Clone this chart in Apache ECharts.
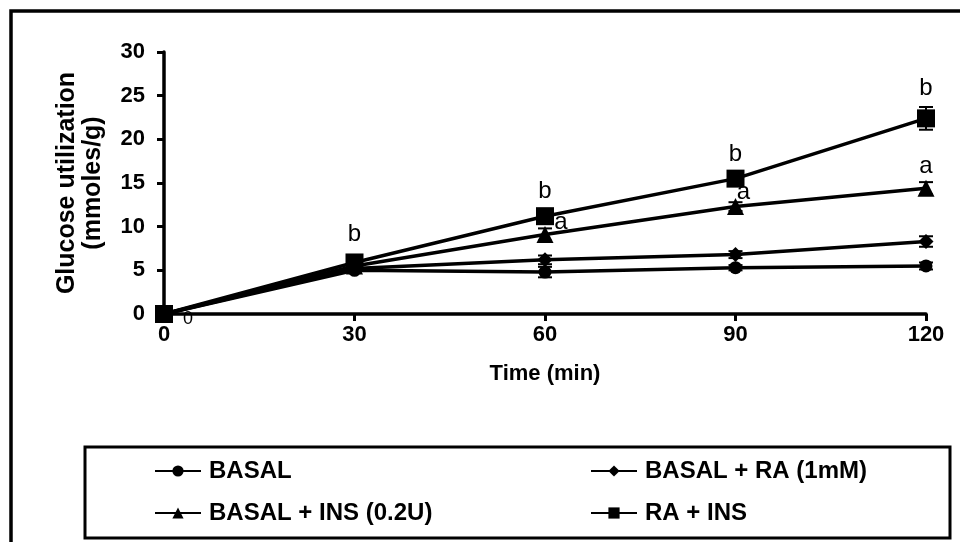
<!DOCTYPE html>
<html>
<head>
<meta charset="utf-8">
<script src="https://cdn.jsdelivr.net/npm/echarts@6/dist/echarts.min.js"></script>
<style>
  html, body { margin: 0; padding: 0; background: #fff; }
  #chart { width: 960px; height: 542px; }
</style>
</head>
<body>
<div id="chart"></div>
<script>
const times = [0, 30, 60, 90, 120]
const yTicks = [0, 5, 10, 15, 20, 25, 30]

const basal = [0, 5.0, 4.8, 5.3, 5.5]
const basalErr = [0, 0.3, 0.6, 0.3, 0.4]
const basalRa = [0, 5.2, 6.2, 6.8, 8.3]
const basalRaErr = [0, 0.3, 0.5, 0.4, 0.6]
const basalIns = [0, 5.5, 9.1, 12.3, 14.4]
const basalInsErr = [0, 0.3, 0.7, 0.5, 0.7]
const raIns = [0, 5.9, 11.2, 15.5, 22.4]
const raInsErr = [0, 0.3, 0.4, 0.5, 1.3]

const insLetters = ['', '', 'a', 'a', 'a']
const raInsLetters = ['', 'b', 'b', 'b', 'b']
const basalLetters = ['0', '', '', '', '']

const names = ['BASAL', 'BASAL + RA (1mM)', 'BASAL + INS (0.2U)', 'RA + INS']
const FONT = '"Liberation Sans", Arial, sans-serif'

const chart = echarts.init(document.getElementById('chart'))

// label placement per point (offsets from marker centre)
const insOffsets = [[0, 0], [0, 0], [16, -12], [8, -14], [0, -22]]
const raInsOffsets = [[0, 0], [0, -28], [0, -25], [0, -24], [0, -30]]

function points(vals, letters, offsets, fontSize) {
  return vals.map((v, i) => ({
    value: [times[i], v],
    label: letters[i]
      ? {
          show: true,
          formatter: letters[i],
          position: 'inside',
          offset: offsets[i],
          color: '#000',
          fontFamily: FONT,
          fontSize: fontSize,
        }
      : { show: false },
  }))
}

function lineSeries(name, data, symbol, size) {
  return {
    name,
    type: 'line',
    data,
    symbol,
    symbolSize: size,
    showSymbol: true,
    color: '#000',
    lineStyle: { color: '#000', width: 3.5 },
    itemStyle: { color: '#000' },
    emphasis: { disabled: true },
    z: 3,
  }
}

function errorSeries(vals, errs) {
  return {
    type: 'custom',
    silent: true,
    z: 2,
    data: vals.map((v, i) => [times[i], v, errs[i]]),
    renderItem(params, api) {
      const x = api.value(0)
      const y = api.value(1)
      const e = api.value(2)
      if (!e) return null
      const hi = api.coord([x, y + e])
      const lo = api.coord([x, y - e])
      const w = 7
      const style = { stroke: '#000', lineWidth: 2 }
      return {
        type: 'group',
        children: [
          { type: 'line', shape: { x1: hi[0], y1: hi[1], x2: lo[0], y2: lo[1] }, style },
          { type: 'line', shape: { x1: hi[0] - w, y1: hi[1], x2: hi[0] + w, y2: hi[1] }, style },
          { type: 'line', shape: { x1: lo[0] - w, y1: lo[1], x2: lo[0] + w, y2: lo[1] }, style },
        ],
      }
    },
  }
}

const legendText = { color: '#000', fontFamily: FONT, fontSize: 24, fontWeight: 'bold', lineHeight: 24, padding: [0, 0, 0, 3] }
const axisFont = { color: '#000', fontFamily: FONT, fontSize: 22, fontWeight: 'bold' }

const legendBase = {
  orient: 'vertical',
  top: 459,
  padding: 0,
  itemWidth: 46,
  itemHeight: 14,
  itemGap: 18,
  textStyle: legendText,
  selectedMode: false,
}

chart.setOption({
  animation: false,
  backgroundColor: '#fff',
  graphic: [
    { type: 'rect', shape: { x: 11, y: 11, width: 1000, height: 600 }, style: { fill: 'none', stroke: '#000', lineWidth: 3.5 }, z: 0 },
    { type: 'rect', shape: { x: 85, y: 447, width: 865, height: 91 }, style: { fill: 'none', stroke: '#000', lineWidth: 3 }, z: 0 },
  ],
  grid: { left: 164, right: 34, top: 52, bottom: 228 },
  legend: [
    Object.assign({ data: [names[0], names[2]], left: 154 }, legendBase),
    Object.assign({ data: [names[1], names[3]], left: 590 }, legendBase),
  ],
  xAxis: {
    type: 'value',
    min: times[0],
    max: times[times.length - 1],
    interval: 30,
    name: 'Time (min)',
    nameLocation: 'middle',
    nameGap: 49,
    nameTextStyle: axisFont,
    axisLine: { lineStyle: { color: '#000', width: 3.5 } },
    axisTick: { show: true, length: 7, lineStyle: { color: '#000', width: 3 } },
    axisLabel: Object.assign({ margin: 10 }, axisFont),
    splitLine: { show: false },
  },
  yAxis: {
    type: 'value',
    min: yTicks[0],
    max: yTicks[yTicks.length - 1],
    interval: 5,
    name: 'Glucose utilization\n(mmoles/g)',
    nameLocation: 'middle',
    nameRotate: 90,
    nameGap: 58,
    nameMoveOverlap: false,
    nameTextStyle: Object.assign({}, axisFont, { fontSize: 25, lineHeight: 26 }),
    axisLine: { show: true, lineStyle: { color: '#000', width: 3.5 } },
    axisTick: { show: true, length: 7, lineStyle: { color: '#000', width: 3 } },
    axisLabel: Object.assign({ margin: 19 }, axisFont),
    splitLine: { show: false },
  },
  series: [
    errorSeries(basal, basalErr),
    errorSeries(basalRa, basalRaErr),
    errorSeries(basalIns, basalInsErr),
    errorSeries(raIns, raInsErr),
    lineSeries(names[0], points(basal, basalLetters, [[24, 5]], 18), 'circle', 13),
    lineSeries(names[1], points(basalRa, [], [], 24), 'diamond', 15),
    lineSeries(names[2], points(basalIns, insLetters, insOffsets, 24), 'triangle', 17),
    lineSeries(names[3], points(raIns, raInsLetters, raInsOffsets, 24), 'rect', 18),
  ],
})
</script>
</body>
</html>
